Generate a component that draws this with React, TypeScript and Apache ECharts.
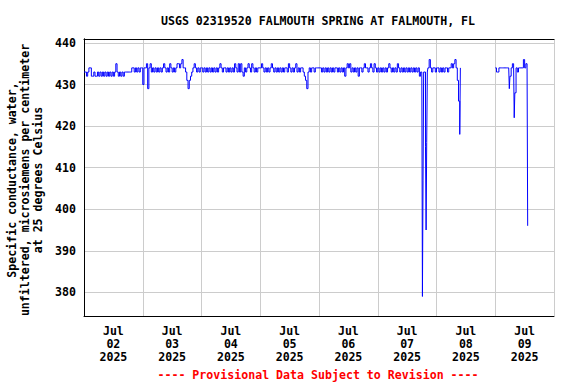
import React, { useEffect, useRef } from 'react';
import * as echarts from 'echarts';

const TITLE = 'USGS 02319520 FALMOUTH SPRING AT FALMOUTH, FL';
const Y_TITLE = ['Specific conductance, water,', 'unfiltered, microsiemens per centimeter', 'at 25 degrees Celsius'];
const FOOTER = '---- Provisional Data Subject to Revision ----';
const DAY_LABELS = [
  ['Jul', '02', '2025'], ['Jul', '03', '2025'], ['Jul', '04', '2025'], ['Jul', '05', '2025'],
  ['Jul', '06', '2025'], ['Jul', '07', '2025'], ['Jul', '08', '2025'], ['Jul', '09', '2025'],
];
const Y_TICKS = [380, 390, 400, 410, 420, 430, 440];

// half-hourly values, one array per day (hours from Jul 02 00:00)
const jul02 = [433, 433, 432, 433, 434, 434, 432, 432, 433, 432, 432, 433, 432, 433, 432, 433, 432, 433, 432, 433, 432, 433, 432, 433,
  432, 433, 435, 433, 432, 433, 432, 433, 432, 433, 433, 433, 433, 433, 433, 434, 434, 433, 434, 433, 434, 433, 434, 434];
const jul03 = [430, 434, 434, 435, 429, 434, 435, 433, 434, 433, 434, 433, 434, 433, 434, 433, 434, 435, 434, 433, 434, 433, 435, 434,
  433, 434, 433, 434, 435, 435, 434, 435, 436, 434, 434, 433, 431, 429, 431, 432, 433, 434, 435, 434, 433, 434, 433, 434];
const jul04 = [434, 433, 434, 433, 434, 433, 434, 433, 434, 433, 434, 433, 434, 433, 434, 435, 434, 433, 434, 434, 433, 434, 433, 434,
  433, 434, 433, 435, 434, 433, 435, 433, 435, 433, 432, 434, 433, 434, 435, 434, 433, 435, 434, 433, 434, 433, 434, 434];
const jul05 = [434, 435, 434, 433, 434, 433, 434, 433, 434, 435, 434, 433, 434, 433, 434, 433, 434, 433, 434, 433, 434, 434, 433, 435,
  434, 433, 434, 433, 434, 435, 433, 434, 433, 434, 434, 433, 432, 431, 429, 433, 434, 433, 434, 434, 433, 434, 434, 434];
const jul06 = [434, 434, 433, 434, 433, 434, 433, 434, 433, 434, 433, 434, 433, 434, 434, 433, 434, 433, 434, 433, 434, 432, 434, 435,
  434, 435, 433, 434, 433, 434, 433, 434, 432, 434, 434, 433, 434, 435, 434, 434, 433, 434, 435, 434, 433, 435, 434, 433];
const jul07 = [434, 433, 434, 433, 434, 433, 434, 433, 434, 435, 434, 433, 434, 433, 434, 433, 435, 434, 433, 434, 433, 434, 433, 434,
  433, 434, 433, 434, 433, 434, 433, 434, 433, 434, 432, 433, 433, 407, 433, 415, 416, 434, 436, 434, 433, 434, 434, 433];
const jul08 = [434, 434, 433, 434, 433, 434, 433, 434, 434, 433, 434, 434, 435, 434, 435, 436, 434, 431, 426, 418];
const jul09 = [434, 433, 433, 434, 434, 434, 434, 434, 434, 434, 434, 434, 432, 434, 435, 434, 428, 434, 433, 434, 434, 434, 434, 436,
  434, 435, 434];
// quarter-hour readings at the sharp dips: [hour, value]
const quarterHour: [number, number][] = [
  [138.25, 379], [138.75, 433], [139.75, 395], [140.25, 433],
  [153.75, 434],
  [173.75, 429], [175.75, 422], [181.25, 396],
];

const DAYS = [jul02, jul03, jul04, jul05, jul06, jul07, jul08, jul09];

function buildData() {
  const pts: [number, number][] = [];
  DAYS.forEach((arr, d) => arr.forEach((v, i) => pts.push([d * 24 + i * 0.5, v])));
  quarterHour.forEach(([h, v]) => {
    const idx = pts.findIndex((p) => p[0] === h);
    if (idx >= 0) pts[idx] = [h, v];
    else pts.push([h, v]);
  });
  pts.sort((a, b) => a[0] - b[0]);
  const out: any[] = [];
  for (let i = 0; i < pts.length; i++) {
    if (i > 0 && pts[i][0] - pts[i - 1][0] > 1) out.push([pts[i - 1][0], '-']);
    out.push(pts[i]);
  }
  return out;
}

const FONT = '"DejaVu Sans Mono", monospace';
const FS = 11.6;
const X_MIN = 0;
const X_MAX = 192;
const Y_MIN = 374.3;
const Y_MAX = 440.95;

export default function App() {
  const ref = useRef<HTMLDivElement>(null);
  useEffect(() => {
    if (!ref.current) return;
    const chart = echarts.init(ref.current, null, { renderer: 'svg' });
    const textStyle = { fontFamily: FONT, fontSize: FS, fontWeight: 'bold' as const, color: '#000' };
    const frameLine = { show: true, lineStyle: { color: '#000', width: 1 } };
    chart.setOption({
      animation: false,
      backgroundColor: '#fff',
      grid: {
        left: 84, top: 39, width: 470, height: 277,
        show: false,
        outerBoundsMode: 'none',
      },
      xAxis: [
        {
          type: 'value', min: X_MIN, max: X_MAX, interval: 24, position: 'bottom',
          axisLine: frameLine, axisTick: { show: false }, axisLabel: { show: false },
          splitLine: { show: true, lineStyle: { color: '#cccccc', width: 1 } },
        },
        {
          type: 'value', min: X_MIN, max: X_MAX, interval: 12, position: 'bottom',
          axisLine: { show: false }, axisTick: { show: false },
          splitLine: { show: false },
          axisLabel: {
            ...textStyle, lineHeight: 13, margin: 8,
            formatter: (v: number) => (v % 24 === 12 ? DAY_LABELS[Math.floor(v / 24)].join('\n') : ''),
          },
        },
        {
          type: 'value', min: X_MIN, max: X_MAX, position: 'top',
          axisLine: frameLine, axisTick: { show: false }, axisLabel: { show: false }, splitLine: { show: false },
        },
      ],
      yAxis: [
        {
          type: 'value', min: Y_MIN, max: Y_MAX, splitNumber: 7, position: 'left',
          axisLine: frameLine, axisTick: { show: false },
          showMinLabel: false, showMaxLabel: false,
          axisLabel: {
            ...textStyle, margin: 8,
            formatter: (v: number) => (Y_TICKS.includes(Math.round(v * 1000) / 1000) ? String(Math.round(v)) : ''),
          },
          splitLine: { show: true, lineStyle: { color: '#cccccc', width: 1 } },
        },
        {
          type: 'value', min: Y_MIN, max: Y_MAX, position: 'right',
          axisLine: frameLine, axisTick: { show: false }, axisLabel: { show: false }, splitLine: { show: false },
        },
      ],
      graphic: [
        {
          type: 'text', x: 318, y: 21,
          style: { text: TITLE, ...textStyle, fill: '#000', align: 'center', verticalAlign: 'middle', textAlign: 'center', textVerticalAlign: 'middle' },
        },
        {
          type: 'text', x: 25, y: 180, rotation: Math.PI / 2,
          style: { text: Y_TITLE.join('\n'), ...textStyle, lineHeight: 13.3, fill: '#000', align: 'center', verticalAlign: 'middle', textAlign: 'center', textVerticalAlign: 'middle' },
        },
        {
          type: 'text', x: 318, y: 375,
          style: { text: FOOTER, ...textStyle, fill: '#ff0000', align: 'center', verticalAlign: 'middle', textAlign: 'center', textVerticalAlign: 'middle' },
        },
      ],
      series: [
        {
          type: 'line', xAxisIndex: 0, yAxisIndex: 0, step: 'end',
          data: buildData(), showSymbol: false, symbol: 'none', connectNulls: false,
          lineStyle: { color: '#0000ff', width: 1 }, emphasis: { disabled: true },
        },
      ],
    });
    return () => chart.dispose();
  }, []);
  return <div ref={ref} style={{ position: 'fixed', left: 0, top: 0, width: 576, height: 384 }} />;
}
